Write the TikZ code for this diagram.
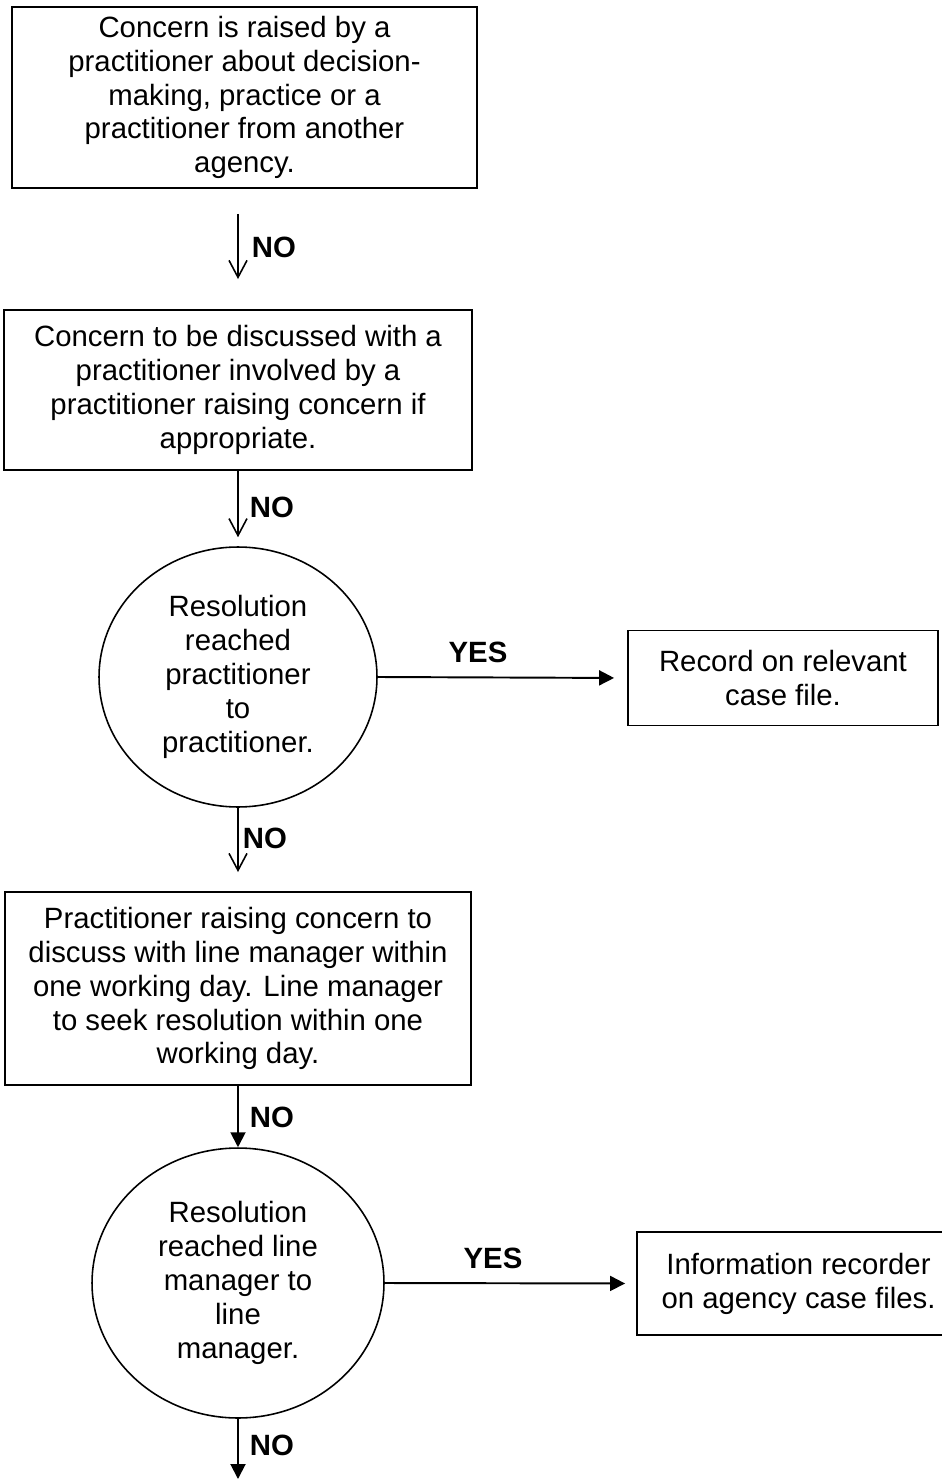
\documentclass[tikz,border=0pt]{standalone}
\usepackage{fontspec}
\setmainfont{Liberation Sans}
\usetikzlibrary{arrows.meta,shapes.geometric}
\tikzset{
  font=\fontsize{16.7}{19.3}\selectfont,
  box/.style={rectangle,draw=black,line width=1.1pt,align=center,inner sep=0pt},
  roundbox/.style={ellipse,draw=black,line width=0.9pt,align=center,inner sep=0pt},
  lbl/.style={font=\fontsize{16.7}{19.3}\selectfont\bfseries},
  openarrow/.style={-{Straight Barb[length=3.4mm,width=3.6mm,line width=0.9pt]},draw=black,line width=1pt},
  fillarrow/.style={-{Triangle[length=3mm,width=3mm]},draw=black,line width=1.1pt},
}
\begin{document}
\begin{tikzpicture}[x=0.02cm,y=-0.02cm]

\useasboundingbox (0,0) rectangle (942,1479);

\node[box,minimum width=9.3cm,minimum height=3.62cm] (concern) at (244.5,97.5)
  {Concern is raised by a\\practitioner about decision-\\making, practice or a\\practitioner from another\\agency.};
\node[box,minimum width=9.36cm,minimum height=3.2cm] (discuss) at (238,390)
  {Concern to be discussed with a\\practitioner involved by a\\practitioner raising concern if\\appropriate.};
\node[roundbox,minimum width=5.56cm,minimum height=5.2cm] (respract) at (238,677)
  {Resolution\\reached\\practitioner\\to\\practitioner.};
\node[box,minimum width=6.2cm,minimum height=1.9cm] (record) at (783,678)
  {Record on relevant\\case file.};
\node[box,minimum width=9.32cm,minimum height=3.86cm] (linemgr) at (238,988.5)
  {Practitioner raising concern to\\discuss with line manager within\\one working day. Line manager\\to seek resolution within one\\working day.};
\node[roundbox,minimum width=5.84cm,minimum height=5.4cm] (resmgr) at (238,1283)
  {Resolution\\reached line\\manager to\\line\\manager.};
\node[box,minimum width=6.46cm,minimum height=2.06cm] (info) at (798.5,1283.5)
  {Information recorder\\on agency case files.};
\coordinate (bottom) at (238,1479);

\draw[openarrow,shorten <=0.5cm,shorten >=0.6cm] (concern.south -| discuss.north) -- (discuss.north);
\draw[openarrow,shorten >=0.18cm] (discuss.south) -- (respract.north);
\draw[openarrow,shorten >=0.38cm] (respract.south) -- (linemgr.north);
\draw[fillarrow] (linemgr.south) -- (resmgr.north);
\draw[fillarrow] (resmgr.south) -- (bottom);
\draw[fillarrow,shorten >=0.26cm] (respract.east) -- (record.west);
\draw[fillarrow,shorten >=0.22cm] (resmgr.east) -- (info.west);

\node[lbl] (no1) at (274,247) {NO};
\node[lbl] (no2) at (272,507) {NO};
\node[lbl] (no3) at (265,838) {NO};
\node[lbl] (no4) at (272,1117) {NO};
\node[lbl] (no5) at (272,1445) {NO};
\node[lbl] (yes1) at (478,652) {YES};
\node[lbl] (yes2) at (493,1258) {YES};

\end{tikzpicture}
\end{document}
